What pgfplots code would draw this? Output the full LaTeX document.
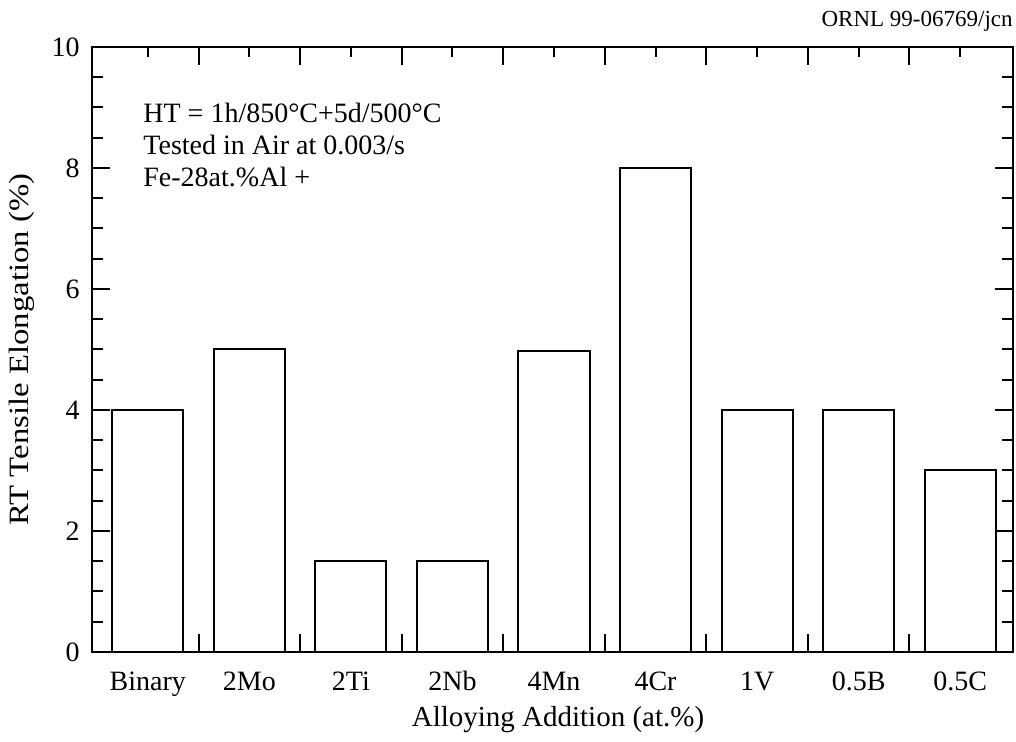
\documentclass[border=0pt]{standalone}
\usepackage{fontspec}
\setmainfont{Liberation Serif}
\usepackage{pgfplots}
\pgfplotsset{compat=1.18}

\begin{document}
\begin{tikzpicture}
\begin{axis}[
  scale only axis,
  width=460.5pt, height=302.5pt,
  xmin=-0.55, xmax=8.52,
  ymin=0, ymax=10,
  font=\fontsize{14}{16.8}\selectfont,
  /pgf/number format/assume math mode=true,
  axis line style={line width=1.2pt},
  tick style={line width=1pt, black},
  tick align=inside,
  major tick length=9pt,
  minor tick length=5.5pt,
  % separators between categories carry the long ticks
  xtick={0.5,1.5,...,7.5},
  xticklabels={},
  % category centres carry the short ticks and the names
  extra x ticks={0,1,2,3,4,5,6,7,8},
  extra x tick labels={Binary,2Mo,2Ti,2Nb,4Mn,4Cr,1V,0.5B,0.5C},
  extra x tick style={major tick length=5pt,
    tick label style={inner sep=0pt, text height=10pt, text depth=3pt, yshift=-9pt}},
  ytick={0,2,...,10},
  minor y tick num=3,
  yticklabel style={inner sep=0pt, xshift=-6pt},
  xlabel={Alloying Addition (at.\%)},
  ylabel={\scalebox{1.17}[1]{RT Tensile Elongation (\%)}},
  xlabel style={at={(axis description cs:0.506,-0.112)}, anchor=center,
    font=\fontsize{14.5}{17}\selectfont},
  ylabel style={at={(axis description cs:-0.076,0.5)}, anchor=center},
]
\addplot[ybar, bar width=0.7, bar shift=0pt, fill=white, draw=black, line width=1pt]
  coordinates {(0,4) (1,5) (2,1.5) (3,1.5) (4,4.97) (5,8) (6,4) (7,4) (8,3)};

\node[anchor=base west, inner sep=0pt] at (axis description cs:0.0554,0.876) {HT = 1h/850°C+5d/500°C};
\node[anchor=base west, inner sep=0pt] at (axis description cs:0.0554,0.8215) {Tested in Air at 0.003/s};
\node[anchor=base west, inner sep=0pt] at (axis description cs:0.0554,0.7686) {Fe-28at.\%Al +};
\end{axis}
\node[anchor=base east, inner sep=0pt, font=\fontsize{11.5}{13}\selectfont]
  at ([yshift=10pt]current axis.north east) {ORNL 99-06769/jcn};
\path ([shift={(-46pt,-45pt)}]current axis.south west) rectangle ([shift={(1.5pt,23.5pt)}]current axis.north east);
\end{tikzpicture}
\end{document}
